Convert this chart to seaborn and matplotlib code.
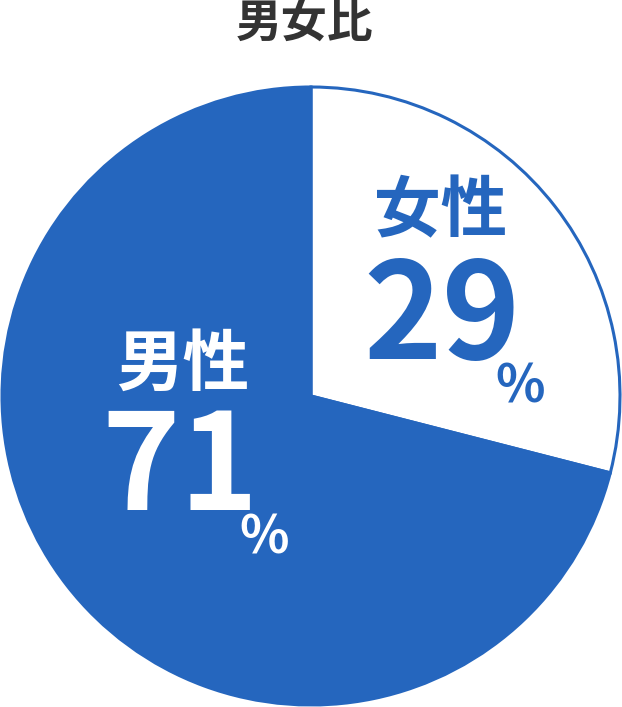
import matplotlib
matplotlib.use("Agg")
import matplotlib.pyplot as plt
import seaborn as sns

sns.set_theme(style="white")
plt.rcParams['font.family'] = ['Noto Sans CJK JP', 'DejaVu Sans']

labels = ["女性", "男性"]
values = [29, 71]
title = "男女比"

blue = "#2566be"
W, H = 622, 707
fig = plt.figure(figsize=(W / 100, H / 100), dpi=100)
fig.patch.set_facecolor("white")

cx, cy, r = 311, 396, 309
ax = fig.add_axes([(cx - r) / W, (H - cy - r) / H, 2 * r / W, 2 * r / H])
wedges, _ = ax.pie(values, colors=["white", blue], startangle=90, counterclock=False,
                   wedgeprops=dict(edgecolor=blue, linewidth=2.2))
ax.set_xlim(-1, 1)
ax.set_ylim(-1, 1)
ax.set_aspect("equal")
ax.axis("off")

def T(x, y, s, size, color, weight="bold"):
    fig.text(x / W, 1 - y / H, s, ha="center", va="center", fontsize=size,
             color=color, fontweight=weight)

T(305, 24, title, 33, "#333333")

T(441, 212, labels[0], 48, blue)
T(442, 320, f"{values[0]}", 96, blue)
T(520, 387, "%", 37, blue)

T(183, 365, labels[1], 48, "white")
T(180, 471, f"{values[1]}", 96, "white")
T(264, 538, "%", 37, "white")

fig.savefig("out.png", dpi=100, facecolor="white")
